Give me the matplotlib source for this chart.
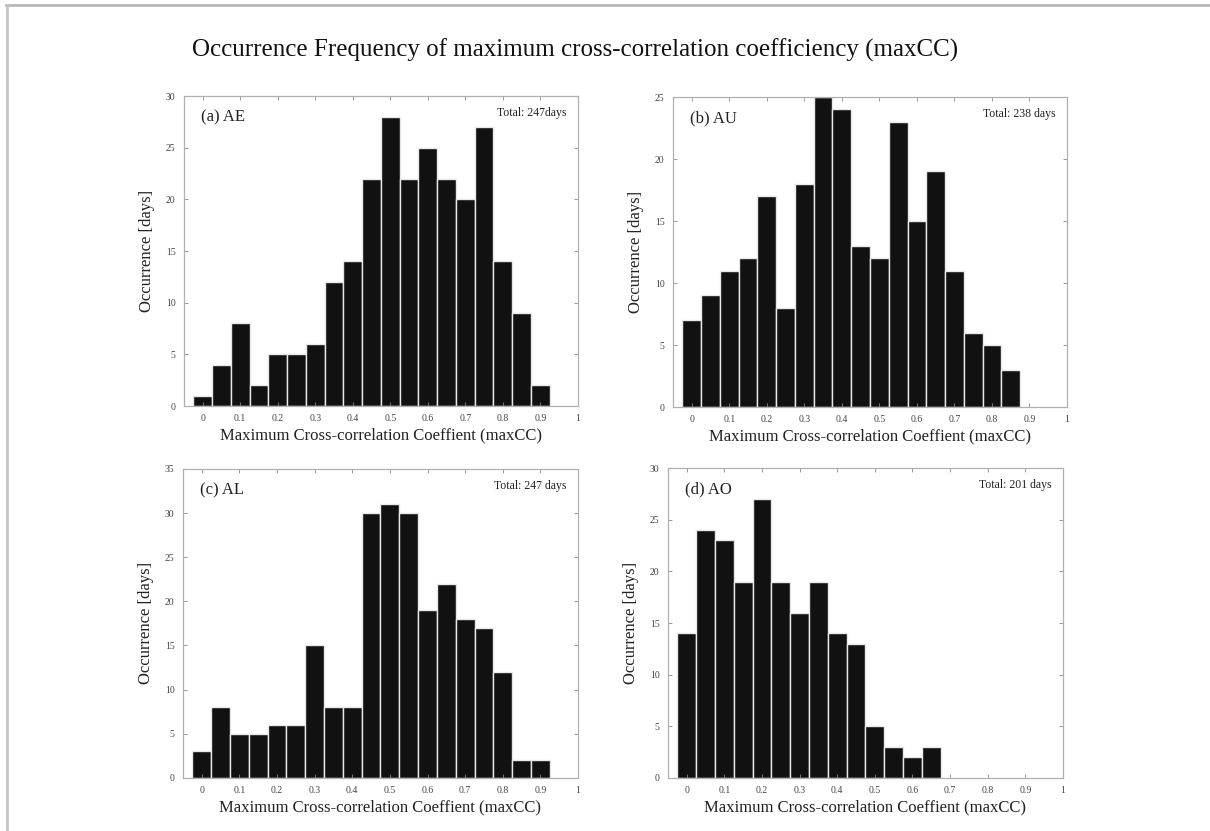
import numpy as np
import matplotlib
matplotlib.use('Agg')
from matplotlib import pyplot as plt
from matplotlib.lines import Line2D

plt.rcParams['font.family'] = ['Liberation Serif', 'DejaVu Serif']

# bin centres of maxCC histogram
bins = [0.0, 0.05, 0.1, 0.15, 0.2, 0.25, 0.3, 0.35, 0.4, 0.45,
        0.5, 0.55, 0.6, 0.65, 0.7, 0.75, 0.8, 0.85, 0.9]

ae_counts = [1, 4, 8, 2, 5, 5, 6, 12, 14, 22, 28, 22, 25, 22, 20, 27, 14, 9, 2]
au_counts = [7, 9, 11, 12, 17, 8, 18, 25, 24, 13, 12, 23, 15, 19, 11, 6, 5, 3]
al_counts = [3, 8, 5, 5, 6, 6, 15, 8, 8, 30, 31, 30, 19, 22, 18, 17, 12, 2, 2]
ao_counts = [14, 24, 23, 19, 27, 19, 16, 19, 14, 13, 5, 3, 2, 3]

panel_labels = ['(a) AE', '(b) AU', '(c) AL', '(d) AO']
totals = ['Total: 247days', 'Total: 238 days', 'Total: 247 days', 'Total: 201 days']
ymax = [30, 25, 35, 30]
xticks = [0, 0.1, 0.2, 0.3, 0.4, 0.5, 0.6, 0.7, 0.8, 0.9, 1]
xticklabels = ['0', '0.1', '0.2', '0.3', '0.4', '0.5', '0.6', '0.7', '0.8', '0.9', '1']

fig = plt.figure(figsize=(12.1, 8.31), dpi=100)

# grey frame (top and left only visible)
fig.add_artist(Line2D([0.005, 1.0], [0.9945, 0.9945], transform=fig.transFigure,
                      color='#b8b8b8', lw=2))
fig.add_artist(Line2D([0.0055, 0.0055], [0.0, 0.9945], transform=fig.transFigure,
                      color='#c4c4c4', lw=2))

fig.text(0.475, 0.94, 'Occurrence Frequency of maximum cross-correlation coefficiency (maxCC)',
         ha='center', va='center', fontsize=18, color='#111111')

positions = [[0.152, 0.5114, 0.3256, 0.373],
             [0.5562, 0.5102, 0.3256, 0.373],
             [0.1512, 0.0638, 0.3265, 0.372],
             [0.552, 0.0638, 0.3265, 0.373]]
data = [ae_counts, au_counts, al_counts, ao_counts]

for i in range(4):
    ax = fig.add_axes(positions[i])
    counts = data[i]
    ax.bar(bins[:len(counts)], counts, width=0.05, color='#111111',
           edgecolor='#e8e8e8', linewidth=1.0)
    ax.set_xlim(-0.05, 1.0)
    ax.set_ylim(0, ymax[i])
    ax.set_xticks(xticks)
    ax.set_xticklabels(xticklabels)
    ax.set_yticks(np.arange(0, ymax[i] + 1, 5))
    ax.tick_params(direction='in', length=3, width=0.6, colors='#888888',
                   labelcolor='#444444', labelsize=7, top=True, right=True, pad=6)
    for s in ax.spines.values():
        s.set_color('#b0b0b0')
        s.set_linewidth(0.9)
    ax.set_ylabel('Occurrence [days]', fontsize=12, color='#222222', labelpad=8)
    ax.set_xlabel('Maximum Cross-correlation Coeffient (maxCC)', fontsize=12,
                  color='#222222', labelpad=3)
    ax.text(0.043, 0.93, panel_labels[i], transform=ax.transAxes, fontsize=12,
            ha='left', va='center', color='#222222')
    ax.text(0.97, 0.945, totals[i], transform=ax.transAxes, fontsize=8.5,
            ha='right', va='center', color='#222222')

plt.savefig('out.png', dpi=100)
